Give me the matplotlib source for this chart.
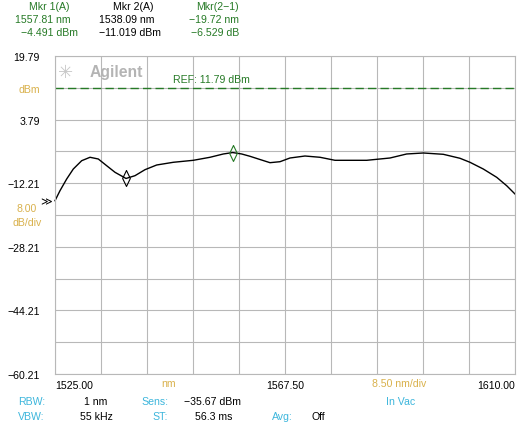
import matplotlib.pyplot as plt
import numpy as np

plt.rcParams['font.family'] = ['Liberation Sans', 'DejaVu Sans']
plt.rcParams['font.size'] = 7.6

W, H = 520, 427

# trace (nm, dBm)
wl_nm = [1525.00, 1525.92, 1527.16, 1528.38, 1529.93, 1531.47, 1533.00,
         1534.55, 1536.09, 1538.12, 1539.78, 1541.63, 1543.79, 1546.86,
         1550.56, 1553.64, 1556.10, 1557.84, 1559.50, 1561.03, 1562.88,
         1564.73, 1566.58, 1568.42, 1571.19, 1573.97, 1576.74, 1582.60,
         1586.90, 1589.98, 1593.06, 1596.75, 1599.83, 1601.68, 1604.14,
         1606.62, 1608.46, 1610.00]
power_dbm = [-16.61, -14.10, -11.15, -8.64, -6.55, -5.69, -6.12,
             -7.81, -9.47, -11.02, -10.32, -8.81, -7.63, -6.95,
             -6.45, -5.69, -4.86, -4.50, -4.86, -5.44, -6.25,
             -7.05, -6.80, -5.87, -5.37, -5.69, -6.45, -6.45,
             -5.87, -4.86, -4.61, -4.94, -5.94, -6.95, -8.64,
             -10.73, -12.84, -14.93]

mkr_wl = [1557.81, 1538.09]
mkr_dbm = [-4.491, -11.019]
mkr_delta_nm = -19.72
mkr_delta_db = -6.529
ref_dbm = 11.79
x_start, x_stop, x_div = 1525.00, 1610.00, 8.50
y_top, y_div = 19.79, 8.00

GREEN = '#267a26'
YELLOW = '#d9b14c'
CYAN = '#3db6dc'
GRID = '#b8b8b8'


def neg(s):
    return s.replace('-', '\u2212')


fig = plt.figure(figsize=(W / 100, H / 100), dpi=100)
ax = fig.add_axes([55 / W, 1 - 375 / H, 460 / W, 318 / H])

xs = x_start + x_div * np.arange(11)
ys = y_top - y_div * np.arange(11)
ax.set_xlim(x_start, x_stop)
ax.set_ylim(ys[-1], y_top)
ax.set_xticks(xs)
ax.set_yticks(ys)
ax.grid(True, color=GRID, linewidth=0.8)
for s in ax.spines.values():
    s.set_color(GRID)
    s.set_linewidth(0.8)

ylabs = []
for i, v in enumerate(ys):
    if i == 1:
        ylabs.append('dBm')
    elif i % 2 == 0:
        ylabs.append(neg('{:.2f}'.format(v)))
    else:
        ylabs.append('')
ax.set_yticklabels(ylabs)
ax.get_yticklabels()[1].set_color(YELLOW)
ax.tick_params(axis='y', length=0, pad=11)

xlabs = [''] * 11
xlabs[0] = '{:.2f}'.format(xs[0])
xlabs[5] = '{:.2f}'.format(xs[5])
xlabs[10] = '{:.2f}'.format(xs[10])
ax.set_xticklabels(xlabs)
ax.tick_params(axis='x', length=0, pad=4)
xl = ax.get_xticklabels()
xl[0].set_ha('left')
xl[10].set_ha('right')

# reference level
ax.axhline(ref_dbm, color=GREEN, linewidth=1.0, linestyle=(0, (6, 3)))
ax.text(1546.8, ref_dbm + 0.9, 'REF: {:.2f} dBm'.format(ref_dbm),
        color=GREEN, va='bottom', ha='left')

# trace
ax.plot(wl_nm, power_dbm, color='black', linewidth=1.0, clip_on=False)

# markers
diamond = [(0, 1), (0.48, 0), (0, -1), (-0.48, 0), (0, 1)]
ax.plot(mkr_wl[0], mkr_dbm[0], marker=diamond, markersize=11.5,
        markerfacecolor='none', markeredgecolor=GREEN, markeredgewidth=0.8)
ax.plot(mkr_wl[1], mkr_dbm[1], marker=diamond, markersize=11.5,
        markerfacecolor='none', markeredgecolor='black', markeredgewidth=0.8)

# logo
ax.text(0.006, 0.95, '\u2733', transform=ax.transAxes, color='#c8c8c8',
        fontsize=13, family='DejaVu Sans', va='center', ha='left')
ax.text(0.076, 0.95, 'Agilent', transform=ax.transAxes, color='#b4b4b4',
        fontsize=11.3, fontweight='bold', va='center', ha='left')


def ftext(x, y, s, **kw):
    fig.text(x / W, 1 - y / H, s, va='center', **kw)


# marker readout
ftext(29, 7, 'Mkr 1(A)', color=GREEN)
ftext(15, 20, '{:.2f} nm'.format(mkr_wl[0]), color=GREEN)
ftext(21, 33, neg('{:.3f} dBm'.format(mkr_dbm[0])), color=GREEN)
ftext(113, 7, 'Mkr 2(A)', color='black')
ftext(99, 20, '{:.2f} nm'.format(mkr_wl[1]), color='black')
ftext(99, 33, neg('{:.3f} dBm'.format(mkr_dbm[1])), color='black')
ftext(239, 7, 'Mkr(2\u22121)', color=GREEN, ha='right')
ftext(239, 20, neg('{:.2f} nm'.format(mkr_delta_nm)), color=GREEN, ha='right')
ftext(239, 33, neg('{:.3f} dB'.format(mkr_delta_db)), color=GREEN, ha='right')

# scale info
ftext(46, 202, '\u226b', color='black', family='DejaVu Sans', ha='center',
      fontsize=8)
ftext(27, 209, '{:.2f}'.format(y_div), color=YELLOW, ha='center')
ftext(27, 223, 'dB/div', color=YELLOW, ha='center')
ftext(169, 384, 'nm', color=YELLOW, ha='center')
ftext(399, 384, '{:.2f} nm/div'.format(x_div), color=YELLOW, ha='center')

# settings
ftext(18, 402, 'RBW:', color=CYAN)
ftext(18, 417, 'VBW:', color=CYAN)
ftext(96, 402, '1 nm', color='black', ha='center')
ftext(96, 417, '55 kHz', color='black', ha='center')
ftext(168, 402, 'Sens:', color=CYAN, ha='right')
ftext(168, 417, 'ST:', color=CYAN, ha='right')
ftext(213, 402, '\u221235.67 dBm', color='black', ha='center')
ftext(214, 417, '56.3 ms', color='black', ha='center')
ftext(293, 417, 'Avg:', color=CYAN, ha='right')
ftext(312, 417, 'Off', color='black')
ftext(401, 402, 'In Vac', color=CYAN, ha='center')

fig.savefig('out.png', dpi=100, facecolor='white')
